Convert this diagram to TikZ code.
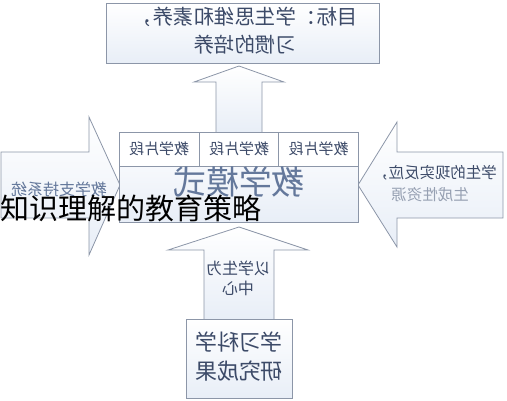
\documentclass[tikz,border=0pt]{standalone}
\usepackage{fontspec}
\usepackage{graphicx}
\newfontfamily\cjk{Noto Sans CJK SC}
\newcommand{\mir}[1]{\reflectbox{#1}}
\definecolor{edgec}{RGB}{140,150,168}
\definecolor{fillc}{RGB}{232,238,247}
\definecolor{txtc}{RGB}{60,74,104}
\definecolor{softc}{RGB}{100,120,155}
\definecolor{greyc}{RGB}{150,160,178}
\begin{document}
\begin{tikzpicture}[x=1pt,y=-1pt,
  shapeout/.style={draw=edgec, line width=0.8pt, top color=white, bottom color=fillc},
  boxn/.style={shapeout, rectangle, inner sep=0pt},
  cell/.style={draw=edgec, line width=0.8pt, fill=white, minimum width=80pt, minimum height=34pt, inner sep=0pt},
  lbl/.style={font=\cjk, text=txtc, align=center, inner sep=0pt},
]
\useasboundingbox (0,0) rectangle (507,400);

% arrows
\draw[shapeout] (216,132) -- (216,82) -- (194,82) -- (239,66) -- (284,82) -- (262,82) -- (262,132);
\draw[shapeout] (1,152) -- (89,152) -- (89,117) -- (120,185) -- (89,255) -- (89,218) -- (1,218) -- cycle;
\draw[shapeout] (503,152) -- (397,152) -- (397,122) -- (358,185) -- (397,247) -- (397,218) -- (503,218) -- cycle;

% boxes
\node[boxn, minimum width=273pt, minimum height=60pt] (goal) at (242.5,33) {};
\node[lbl, font=\cjk\fontsize{20.5}{28}\selectfont] (goalt) at (245,31) {\mir{目标：学生思维和素养，}\\\mir{习惯的培养}};

\node[boxn, minimum width=239pt, minimum height=90pt] (core) at (238.5,177) {};
\node[cell] (c1) at (159,149) {};
\node[cell] (c2) at (239,149) {};
\node[cell] (c3) at (318.5,149) {};
\node[lbl, font=\cjk\fontsize{15}{18}\selectfont] at (c1) {\mir{教学片段}};
\node[lbl, font=\cjk\fontsize{15}{18}\selectfont] at (c2) {\mir{教学片段}};
\node[lbl, font=\cjk\fontsize{15}{18}\selectfont] at (c3) {\mir{教学片段}};
\node[lbl, text=softc, font=\cjk\fontsize{33}{36}\selectfont] (model) at (239,182) {\mir{教学模式}};

\draw[shapeout] (204,319) -- (204,250) -- (168,250) -- (239,227) -- (308,250) -- (274,250) -- (274,319);
\node[boxn, minimum width=106pt, minimum height=79pt] (res) at (239,358.5) {};

% labels
\node[lbl, text=softc, font=\cjk\fontsize{16}{18}\selectfont] (leftt) at (59,189) {\mir{教学支持系统}};
\node[lbl, font=\cjk\fontsize{15.5}{22}\selectfont] (rightt) at (435,173) {\mir{学生的现实反应，}};
\node[lbl, text=greyc, font=\cjk\fontsize{15.5}{22}\selectfont] (rightt2) at (430,195) {\mir{生成性资源}};
\node[lbl, font=\cjk\fontsize{16}{20}\selectfont] (bott) at (238,278) {\mir{以学生为}\\\mir{中心}};
\node[lbl, font=\cjk\fontsize{22}{29}\selectfont] (rest) at (239,357) {\mir{学习科学}\\\mir{研究成果}};

% overlay caption
\node[font=\cjk\fontsize{29}{32}\selectfont, text=black, anchor=west, inner sep=0pt] (cap) at (0,208) {知识理解的教育策略};
\end{tikzpicture}
\end{document}
